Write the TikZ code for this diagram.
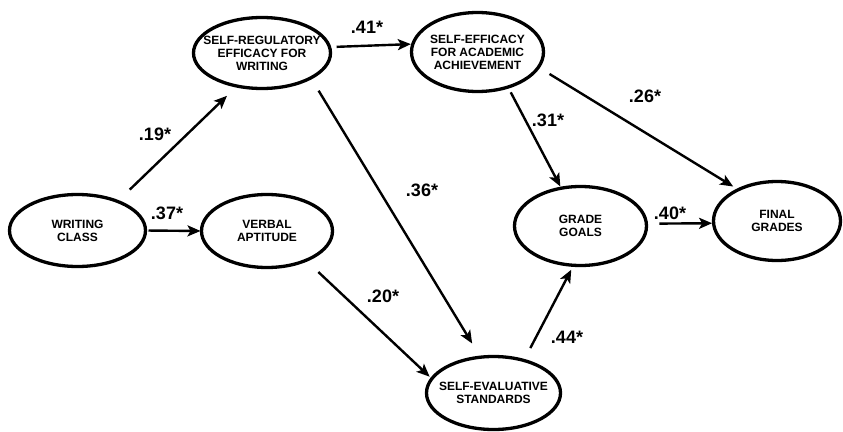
\documentclass[tikz,border=0pt]{standalone}
\usepackage{fontspec}
\setmainfont{Liberation Sans}
\usetikzlibrary{shapes.geometric,arrows.meta}
\begin{document}
\begin{tikzpicture}[x=1pt,y=1pt,
  ell/.style={ellipse, draw, line width=3.3pt, inner sep=0pt, outer sep=0pt},
  ntext/.style={align=center, font=\fontsize{12}{13}\selectfont\bfseries, inner sep=0pt},
  coef/.style={font=\fontsize{18}{18}\selectfont\bfseries, inner sep=0pt},
  arr/.style={line width=2.4pt, -{Stealth[length=13pt,width=11pt,inset=3pt]}}]
\useasboundingbox (0,0) rectangle (843,-431);
\node[ell, minimum width=136pt, minimum height=72pt, label={[ntext]center:{WRITING\\CLASS}}] (wc) at (77.5,-230.5) {};
\node[ell, minimum width=131pt, minimum height=73pt, label={[ntext]center:{VERBAL\\APTITUDE}}] (va) at (267,-231) {};
\node[ell, minimum width=137pt, minimum height=71pt, label={[ntext]center:{SELF-REGULATORY\\EFFICACY FOR\\WRITING}}] (sr) at (262,-53) {};
\node[ell, minimum width=132pt, minimum height=79pt, label={[ntext]center:{SELF-EFFICACY\\FOR ACADEMIC\\ACHIEVEMENT}}] (se) at (477.5,-52) {};
\node[ell, minimum width=132pt, minimum height=79pt, label={[ntext]center:{GRADE\\GOALS}}] (gg) at (580.5,-226) {};
\node[ell, minimum width=127pt, minimum height=79pt, label={[ntext]center:{FINAL\\GRADES}}] (fg) at (777,-221) {};
\node[ell, minimum width=134pt, minimum height=73pt, label={[ntext]center:{SELF-EVALUATIVE\\STANDARDS}}] (sv) at (493.5,-393) {};

\draw[arr, shorten <=17pt, shorten >=14pt] (wc.36) -- (sr.-127);
\draw[arr, shorten <=3pt, shorten >=1pt] (wc.east) -- (va.west);
\draw[arr, shorten <=7pt, shorten >=2pt] (sr.5) -- (se.173);
\draw[arr, shorten <=15pt, shorten >=16pt] (sr.-27) -- (sv.110);
\draw[arr, shorten <=17pt, shorten >=3pt] (va.-37) -- (sv.167);
\draw[arr, shorten <=6pt, shorten >=2pt] (se.-49) -- (gg.117);
\draw[arr, shorten <=13pt, shorten >=6pt] (se.-14) -- (fg.141);
\draw[arr, shorten <=13pt, shorten >=1.5pt] (gg.2) -- (fg.182);
\draw[arr, shorten <=14pt, shorten >=5pt] (sv.47) -- (gg.-100);

\node[coef] (c19) at (155,-134) {.19*};
\node[coef] (c37) at (167,-213) {.37*};
\node[coef] (c41) at (367,-27) {.41*};
\node[coef] (c36) at (422,-190) {.36*};
\node[coef] (c20) at (383,-296) {.20*};
\node[coef] (c31) at (548,-120) {.31*};
\node[coef] (c26) at (645,-96) {.26*};
\node[coef] (c40) at (670,-213) {.40*};
\node[coef] (c44) at (567,-337) {.44*};
\end{tikzpicture}
\end{document}
